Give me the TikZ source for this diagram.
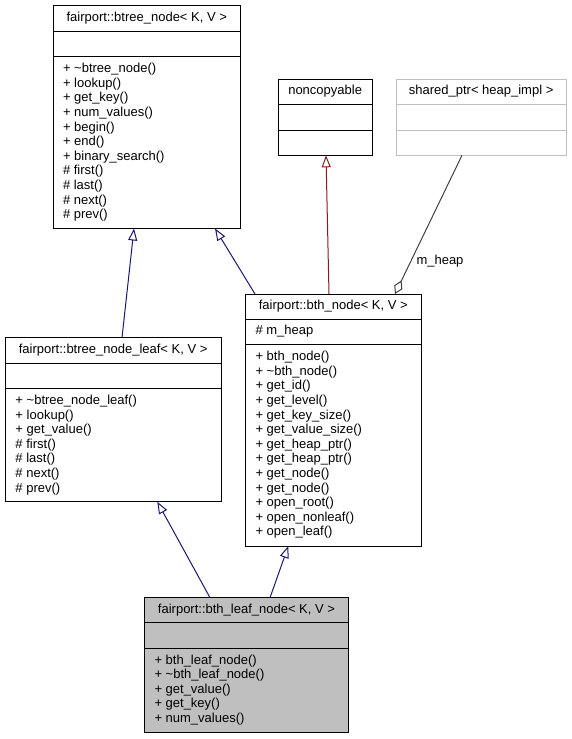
\documentclass[tikz,border=0pt]{standalone}
\usepackage{fontspec}
\setmainfont{Liberation Sans}
\usetikzlibrary{arrows.meta,calc}
\definecolor{inh}{HTML}{191970}
\definecolor{priv}{HTML}{8B1A1A}
\definecolor{usage}{HTML}{404040}
\definecolor{ghost}{HTML}{BFBFBF}
\newcommand\members[3]{%
  \foreach \t [count=\i] in {#3}{%
    \node[txt, anchor=base west] (#1-\i) at ($(#2)+(0,{14.6*(\i-1)})$) {\t};}}
\begin{document}
\begin{tikzpicture}[x=1pt,y=-1pt,
  box/.style={draw=black, line width=1pt, inner sep=0pt, outer sep=0pt, anchor=north west, fill=white},
  txt/.style={inner sep=0pt, outer sep=0pt, font=\fontsize{13}{14.6}\selectfont},
  sep/.style={draw=black, line width=1pt},
  inhline/.style={draw=inh, line width=1pt, -{Triangle[open, length=12pt, width=9pt]}},
  privline/.style={draw=priv, line width=1pt, -{Triangle[open, length=12pt, width=9pt]}},
  useline/.style={draw=usage, line width=1pt, {Diamond[open, length=15pt, width=9pt]}-}
]
\useasboundingbox (0,0) rectangle (571,739);
\fill[white] (0,0) rectangle (571,739);

% ---- btree_node
\node[box, minimum width=187.5pt, minimum height=223pt] (btree) at (53,5.5) {};
\draw[sep] (btree.west |- 0,31.3) -- (btree.east |- 0,31.3);
\draw[sep] (btree.west |- 0,56.7) -- (btree.east |- 0,56.7);
\node[txt, anchor=base] (btree-h) at (btree.north |- 0,21.2) {fairport::btree\_node< K, V >};
\members{btm}{63,72.7}{+ \textasciitilde btree\_node(),+ lookup(),+ get\_key(),+ num\_values(),+ begin(),+ end(),+ binary\_search(),\# first(),\# last(),\# next(),\# prev()}

% ---- noncopyable
\node[box, minimum width=93.7pt, minimum height=76.3pt] (nonc) at (278.3,79) {};
\draw[sep] (nonc.west |- 0,104.3) -- (nonc.east |- 0,104.3);
\draw[sep] (nonc.west |- 0,130) -- (nonc.east |- 0,130);
\node[txt, anchor=base] (nonc-h) at (nonc.north |- 0,94.7) {noncopyable};

% ---- shared_ptr
\node[box, draw=ghost, minimum width=169.7pt, minimum height=76.3pt] (sptr) at (396.3,79) {};
\draw[sep, draw=ghost] (sptr.west |- 0,104.3) -- (sptr.east |- 0,104.3);
\draw[sep, draw=ghost] (sptr.west |- 0,130) -- (sptr.east |- 0,130);
\node[txt, anchor=base] (sptr-h) at (sptr.north |- 0,94.7) {shared\_ptr< heap\_impl >};

% ---- bth_node
\node[box, minimum width=176pt, minimum height=252pt] (bth) at (245.3,294) {};
\draw[sep] (bth.west |- 0,319) -- (bth.east |- 0,319);
\draw[sep] (bth.west |- 0,344.3) -- (bth.east |- 0,344.3);
\node[txt, anchor=base] (bth-h) at (bth.north |- 0,309.7) {fairport::bth\_node< K, V >};
\node[txt, anchor=base west] (bth-a) at (255.5,334.7) {\# m\_heap};
\members{bthm}{255.5,360.6}{+ bth\_node(),+ \textasciitilde bth\_node(),+ get\_id(),+ get\_level(),+ get\_key\_size(),+ get\_value\_size(),+ get\_heap\_ptr(),+ get\_heap\_ptr(),+ get\_node(),+ get\_node(),+ open\_root(),+ open\_nonleaf(),+ open\_leaf()}

% ---- btree_node_leaf
\node[box, minimum width=216.3pt, minimum height=164pt] (leaf) at (5,337.7) {};
\draw[sep] (leaf.west |- 0,363) -- (leaf.east |- 0,363);
\draw[sep] (leaf.west |- 0,388.7) -- (leaf.east |- 0,388.7);
\node[txt, anchor=base] (leaf-h) at (leaf.north |- 0,353.4) {fairport::btree\_node\_leaf< K, V >};
\members{leafm}{15.5,404.4}{+ \textasciitilde btree\_node\_leaf(),+ lookup(),+ get\_value(),\# first(),\# last(),\# next(),\# prev()}

% ---- bth_leaf_node
\node[box, fill=ghost, minimum width=204.4pt, minimum height=134.6pt] (bleaf) at (144.3,597.7) {};
\draw[sep] (bleaf.west |- 0,622.7) -- (bleaf.east |- 0,622.7);
\draw[sep] (bleaf.west |- 0,648.3) -- (bleaf.east |- 0,648.3);
\node[txt, anchor=base] (bleaf-h) at (bleaf.north |- 0,613.4) {fairport::bth\_leaf\_node< K, V >};
\members{bleafm}{154.5,664}{+ bth\_leaf\_node(),+ \textasciitilde bth\_leaf\_node(),+ get\_value(),+ get\_key(),+ num\_values()}

% ---- connector end points
\coordinate (leaf-top) at (leaf.north -| 122,0);
\coordinate (btree-b1) at (btree.south -| 134,0);
\coordinate (bth-top1) at (bth.north -| 255,0);
\coordinate (btree-b2) at (btree.south -| 215,0);
\coordinate (bth-top2) at (bth.north -| 329,0);
\coordinate (nonc-b) at (nonc.south -| 326,0);
\coordinate (sptr-b) at (sptr.south -| 462,0);
\coordinate (bth-top3) at (bth.north -| 395,0);
\coordinate (bleaf-top1) at (bleaf.north -| 210,0);
\coordinate (leaf-b) at (leaf.south -| 157.3,0);
\coordinate (bleaf-top2) at (bleaf.north -| 270,0);
\coordinate (bth-b) at (bth.south -| 288.3,0);

\draw[inhline] (leaf-top) -- (btree-b1);
\draw[inhline] (bth-top1) -- (btree-b2);
\draw[privline] (bth-top2) -- (nonc-b);
\draw[useline] (bth-top3) -- (sptr-b);
\draw[inhline] (bleaf-top1) -- (leaf-b);
\draw[inhline] (bleaf-top2) -- (bth-b);
\node[txt, anchor=west] (mheap) at (416.5,261) {m\_heap};
\end{tikzpicture}
\end{document}
